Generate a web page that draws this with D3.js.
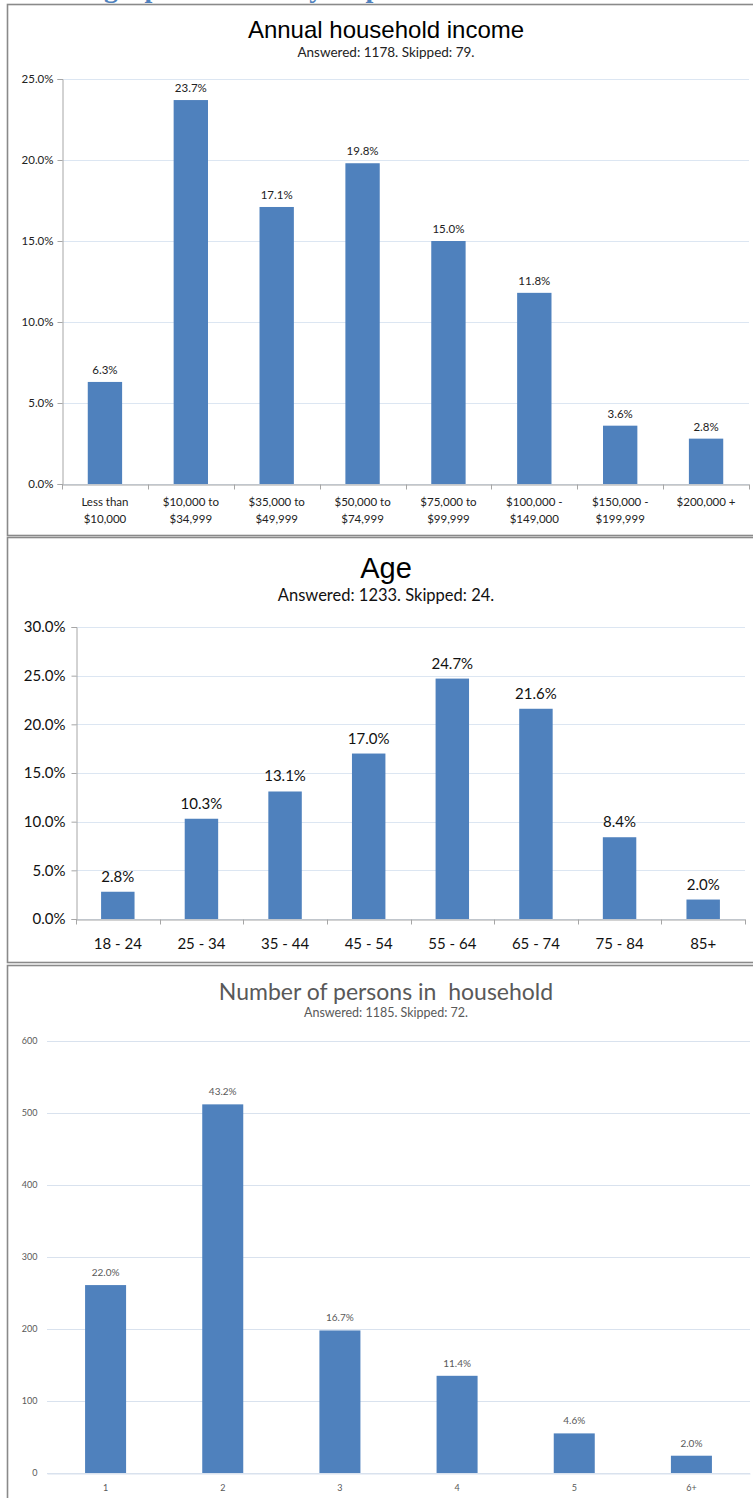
<!DOCTYPE html>
<html>
<head>
<meta charset="utf-8">
<script src="https://cdn.jsdelivr.net/npm/d3@7"></script>
<style>
  html, body { margin: 0; padding: 0; background: #fff; }
  svg { display: block; }
</style>
</head>
<body>
<svg id="page" width="753" height="1498"></svg>
<script>
// ---- Survey data ----
const incomeCategories = ["Less than\n$10,000", "$10,000 to\n$34,999", "$35,000 to\n$49,999", "$50,000 to\n$74,999",
                          "$75,000 to\n$99,999", "$100,000 -\n$149,000", "$150,000 -\n$199,999", "$200,000 +"];
const incomePercent = [6.3, 23.7, 17.1, 19.8, 15.0, 11.8, 3.6, 2.8];
const incomeTicks = [0, 5, 10, 15, 20, 25];

const ageCategories = ["18 - 24", "25 - 34", "35 - 44", "45 - 54", "55 - 64", "65 - 74", "75 - 84", "85+"];
const agePercent = [2.8, 10.3, 13.1, 17.0, 24.7, 21.6, 8.4, 2.0];
const ageTicks = [0, 5, 10, 15, 20, 25, 30];

const personsCategories = ["1", "2", "3", "4", "5", "6+"];
const personsCount = [261, 512, 198, 135, 55, 24];
const personsPercent = [22.0, 43.2, 16.7, 11.4, 4.6, 2.0];
const personsTicks = [0, 100, 200, 300, 400, 500, 600];

const svg = d3.select("#page");
const BAR = "#4f81bd";
const pct = d => d.toFixed(1) + "%";

// Document heading above the first chart (only its lower edge shows)
svg.append("text")
  .attr("x", 34).attr("y", -3)
  .attr("font-family", "Liberation Serif, DejaVu Serif, serif")
  .attr("font-weight", "bold").attr("font-size", 28)
  .attr("fill", "#4f81bd")
  .text("Demographics of survey respondents");

function panelFrame(y0, y1) {
  svg.append("rect")
    .attr("x", 7.5).attr("y", y0)
    .attr("width", 760).attr("height", y1 - y0)
    .attr("fill", "#fff").attr("stroke", "#8a8a8a").attr("stroke-width", 1.6);
}

function barChart(cfg) {
  const g = svg.append("g");
  const x = d3.scaleBand().domain(cfg.categories).range([cfg.left, cfg.right])
    .paddingInner(cfg.pad).paddingOuter(cfg.pad / 2);
  const y = d3.scaleLinear().domain([0, cfg.max]).range([cfg.bottom, cfg.top]);

  // titles
  g.append("text").attr("x", cfg.cx).attr("y", cfg.titleY)
    .attr("text-anchor", "middle").attr("font-family", cfg.titleFont)
    .attr("font-size", cfg.titleSize).attr("fill", cfg.titleColor)
    .style("white-space", "pre").text(cfg.title);
  g.append("text").attr("x", cfg.cx).attr("y", cfg.subY)
    .attr("text-anchor", "middle").attr("font-family", "Lato, sans-serif")
    .attr("font-size", cfg.subSize).attr("fill", cfg.textColor)
    .text(cfg.subtitle);

  // horizontal gridlines
  g.append("g").selectAll("line").data(cfg.ticks).join("line")
    .attr("x1", cfg.left).attr("x2", cfg.right)
    .attr("y1", d => Math.round(y(d)) + 0.5).attr("y2", d => Math.round(y(d)) + 0.5)
    .attr("stroke", cfg.gridColor).attr("stroke-width", 1);

  // y axis
  const yAxis = d3.axisLeft(y).tickValues(cfg.ticks).tickFormat(cfg.tickFormat)
    .tickSize(cfg.axisLines ? 5 : 0).tickPadding(cfg.tickPad);
  const ya = g.append("g").attr("transform", `translate(${cfg.left + 0.5},0)`).call(yAxis);
  ya.select(".domain").attr("stroke", cfg.axisLines ? "#a6a6a6" : "none");
  ya.selectAll(".tick line").attr("stroke", "#a6a6a6");
  ya.selectAll(".tick text").attr("font-family", "Lato, sans-serif")
    .attr("font-size", cfg.tickSize).attr("fill", cfg.textColor);

  // bars
  const bw = x.bandwidth() * cfg.barFrac;
  g.append("g").selectAll("rect").data(cfg.values).join("rect")
    .attr("x", (d, i) => x(cfg.categories[i]) + (x.bandwidth() - bw) / 2)
    .attr("width", bw)
    .attr("y", d => y(d))
    .attr("height", d => y(0) - y(d))
    .attr("fill", BAR);

  // value labels
  g.append("g").selectAll("text").data(cfg.values).join("text")
    .attr("x", (d, i) => x(cfg.categories[i]) + x.bandwidth() / 2)
    .attr("y", d => y(d) - cfg.labelGap)
    .attr("text-anchor", "middle").attr("font-family", "Lato, sans-serif")
    .attr("font-size", cfg.labelSize).attr("fill", cfg.textColor)
    .text((d, i) => cfg.labels[i]);

  // x axis
  const xAxis = d3.axisBottom(x).tickSize(0).tickFormat(() => "");
  const xa = g.append("g").attr("transform", `translate(0,${cfg.bottom + 0.5})`).call(xAxis);
  xa.select(".domain").attr("stroke", cfg.axisLines ? "#a6a6a6" : cfg.gridColor);
  if (cfg.axisLines) {
    // category separators below the baseline
    const step = x.step();
    const bounds = d3.range(cfg.categories.length + 1).map(i => cfg.left + i * step);
    xa.selectAll(".sep").data(bounds).join("line").attr("class", "sep")
      .attr("x1", d => Math.round(d) + 0.5).attr("x2", d => Math.round(d) + 0.5)
      .attr("y1", 0).attr("y2", 5).attr("stroke", "#a6a6a6");
  }
  const cat = g.append("g").selectAll("text").data(cfg.categories).join("text")
    .attr("text-anchor", "middle").attr("font-family", "Lato, sans-serif")
    .attr("font-size", cfg.catSize).attr("fill", cfg.textColor)
    .attr("transform", d => `translate(${x(d) + x.bandwidth() / 2},${cfg.catY})`);
  cat.each(function (d) {
    d3.select(this).selectAll("tspan").data(d.split("\n")).join("tspan")
      .attr("x", 0).attr("dy", (t, i) => i === 0 ? 0 : cfg.catLine).text(t => t);
  });
}

// ---- Panel 1: annual household income ----
panelFrame(4.5, 535.5);
barChart({
  categories: incomeCategories, values: incomePercent, labels: incomePercent.map(pct),
  ticks: incomeTicks, max: 25, tickFormat: d => d.toFixed(1) + "%",
  left: 62, right: 749, top: 79, bottom: 484, pad: 0, barFrac: 0.4,
  cx: 386, title: "Annual household income", titleY: 38, titleSize: 24,
  titleFont: "Liberation Sans, Arial, sans-serif", titleColor: "#000",
  subtitle: "Answered: 1178. Skipped: 79.", subY: 57, subSize: 13.5,
  textColor: "#222", gridColor: "#dce6f2", axisLines: true, tickPad: 4, tickSize: 11.5,
  labelSize: 11.5, labelGap: 8, catSize: 11.5, catY: 506, catLine: 17
});

// ---- Panel 2: age ----
panelFrame(537.5, 962.5);
barChart({
  categories: ageCategories, values: agePercent, labels: agePercent.map(pct),
  ticks: ageTicks, max: 30, tickFormat: d => d.toFixed(1) + "%",
  left: 76, right: 745, top: 627, bottom: 919, pad: 0, barFrac: 0.4,
  cx: 386, title: "Age", titleY: 578, titleSize: 29,
  titleFont: "Liberation Sans, Arial, sans-serif", titleColor: "#000",
  subtitle: "Answered: 1233. Skipped: 24.", subY: 601, subSize: 16.5,
  textColor: "#111", gridColor: "#dce6f2", axisLines: true, tickPad: 6, tickSize: 15,
  labelSize: 15, labelGap: 10, catSize: 15, catY: 949, catLine: 17
});

// ---- Panel 3: number of persons in household ----
panelFrame(965.5, 1520);
barChart({
  categories: personsCategories, values: personsCount, labels: personsPercent.map(pct),
  ticks: personsTicks, max: 600, tickFormat: d3.format("d"),
  left: 47, right: 750, top: 1041, bottom: 1473, pad: 0, barFrac: 0.35,
  cx: 386, title: "Number of persons in  household", titleY: 1000, titleSize: 23,
  titleFont: "Lato, sans-serif", titleColor: "#595959",
  subtitle: "Answered: 1185. Skipped: 72.", subY: 1017, subSize: 12.5,
  textColor: "#595959", gridColor: "#d9e2ee", axisLines: false, tickPad: 10, tickSize: 9,
  labelSize: 10, labelGap: 9, catSize: 9, catY: 1491, catLine: 12
});
</script>
</body>
</html>
